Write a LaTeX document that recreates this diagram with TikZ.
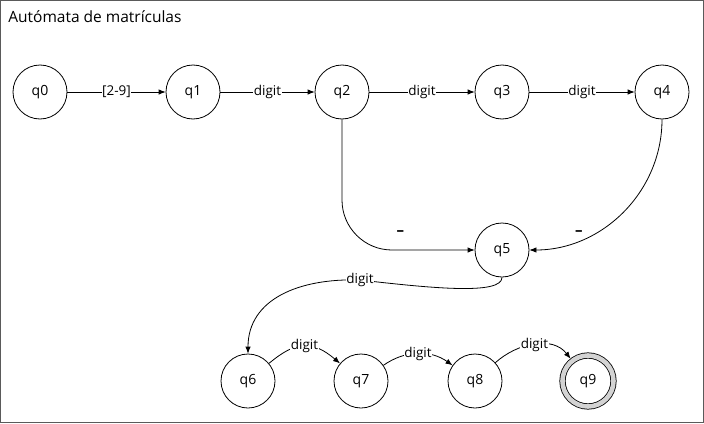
\documentclass[tikz,border=0pt]{standalone}
\usepackage{fontspec}
\setmainfont{Open Sans}
\usetikzlibrary{positioning,arrows.meta}

\definecolor{anillo}{RGB}{211,211,211}
\definecolor{marco}{RGB}{90,90,90}
\tikzset{
  estado/.style={circle, draw, minimum size=54pt, inner sep=0pt, font=\fontsize{14}{16}\selectfont},
  final/.style={estado, double=anillo, double distance=4.6pt, minimum size=51pt, outer sep=2.8pt},
  etiqueta/.style={fill=white, inner sep=0.5pt, font=\fontsize{13.5}{16}\selectfont},
  guion/.style={inner sep=0pt, font=\bfseries\fontsize{15}{18}\selectfont}
}

\begin{document}
\begin{tikzpicture}[x=1pt, y=1pt, line width=0.8pt, >={Latex[length=7pt,width=5.5pt]}]
  \useasboundingbox (0,0) rectangle (704,-423);
  \draw[marco] (0.5,-0.5) rectangle (703.5,-422.5);
  \node[anchor=base west, inner sep=0pt, font=\fontsize{15.5}{18}\selectfont] (titulo) at (8,-23) {Autómata de matrículas};

  % fila de arriba
  \node [estado] (q0) at (40,-92) {q0};
  \node [estado, right of = q0, node distance=153pt] (q1) {q1};
  \node [estado, right of = q1, node distance=149pt] (q2) {q2};
  \node [estado, right of = q2, node distance=160pt] (q3) {q3};
  \node [estado, right of = q3, node distance=160pt] (q4) {q4};
  \node [estado, below of = q3, node distance=158pt] (q5) {q5};
  % fila de abajo
  \node [estado] (q6) at (248,-381) {q6};
  \node [estado, right of = q6, node distance=113pt] (q7) {q7};
  \node [estado, right of = q7, node distance=114pt] (q8) {q8};
  \node [final, right of = q8, node distance=113pt] (q9) {q9};

  \draw [->] (q0) edge node[etiqueta] {[2-9]} (q1)
             (q1) edge node[etiqueta] {digit} (q2)
             (q2) edge node[etiqueta] {digit} (q3)
             (q3) edge node[etiqueta] {digit} (q4);
  \draw [->, rounded corners=50pt] (q2) |- node[guion, pos=0.72, yshift=17pt] {–} (q5);
  \draw [->] (q4) to[out=-90, in=0] node[guion, pos=0.76, yshift=8pt] {–} (q5);
  \draw [->] (q5.south) .. controls +(0,-18) and +(70,-8) .. (360,-280) node[etiqueta] {digit}
             .. controls +(-60,2) and +(0,55) .. (q6.north);
  \draw [->] (q6) edge[out=40, in=140, looseness=1.3] node[etiqueta] {digit} (q7)
             (q7) edge[out=35, in=145] node[etiqueta] {digit} (q8)
             (q8) edge[out=42, in=128] node[etiqueta] {digit} (q9);
\end{tikzpicture}
\end{document}
